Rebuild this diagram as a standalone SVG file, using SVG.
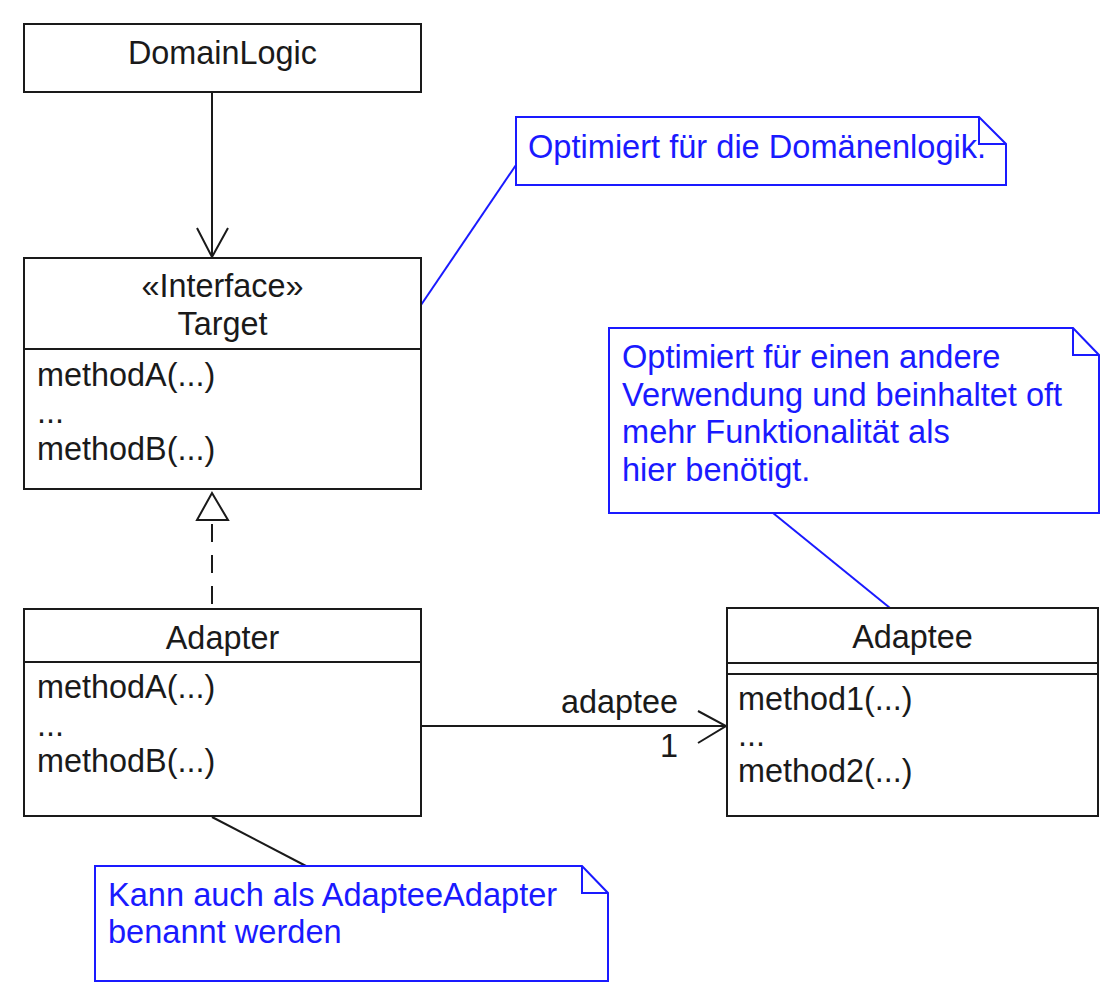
<svg xmlns="http://www.w3.org/2000/svg" width="1116" height="1004" viewBox="0 0 1116 1004">
<style>
.box{fill:#ffffff;stroke:#1a1a1a;stroke-width:2}
.div{stroke:#1a1a1a;stroke-width:2;fill:none}
.note{fill:#ffffff;stroke:#1a1aff;stroke-width:2;stroke-linejoin:miter}
.t{font-family:"Liberation Sans",Arial,sans-serif;font-size:32.4px;fill:#1a1a1a}
.c{text-anchor:middle}
.nt{font-family:"Liberation Sans",Arial,sans-serif;font-size:32.6px;fill:#1a1aff}
.ln{stroke:#1a1a1a;stroke-width:2;fill:none}
.bl{stroke:#1a1aff;stroke-width:2;fill:none}
</style>
<rect width="1116" height="1004" fill="#ffffff"/>
<g id="connectors">
  <line class="ln" x1="212" y1="92" x2="212" y2="257"/>
  <polyline class="ln" points="197,228 212,257 228,228"/>
  <line class="ln" x1="212" y1="520" x2="212" y2="608" stroke-dasharray="18,13" stroke-dashoffset="-4"/>
  <polygon points="212,493 197,520 228,520" fill="#ffffff" stroke="#1a1a1a" stroke-width="2"/>
  <line class="ln" x1="421" y1="726" x2="726" y2="726"/>
  <polyline class="ln" points="698,711 726,726 698,743"/>
  <text class="t" x="561" y="713">adaptee</text>
  <text class="t" x="678" y="757" text-anchor="end">1</text>
  <line class="bl" x1="516" y1="165" x2="421" y2="305"/>
  <line class="bl" x1="773" y1="513" x2="890" y2="608"/>
  <line class="ln" x1="212" y1="817" x2="306" y2="866"/>
</g>
<g id="DomainLogic">
  <rect class="box" x="24" y="24" width="397" height="68"/>
  <text class="t c" x="222.5" y="64">DomainLogic</text>
</g>
<g id="Target">
  <rect class="box" x="24" y="258" width="397" height="231"/>
  <line class="div" x1="24" y1="349" x2="421" y2="349"/>
  <text class="t c" x="222.5" y="297">«Interface»</text>
  <text class="t c" x="222.5" y="335">Target</text>
  <text class="t" x="37" y="386">methodA(...)</text>
  <text class="t" x="37" y="423">...</text>
  <text class="t" x="37" y="460">methodB(...)</text>
</g>
<g id="Adapter">
  <rect class="box" x="24" y="609" width="397" height="207"/>
  <line class="div" x1="24" y1="662" x2="421" y2="662"/>
  <text class="t c" x="222.5" y="649">Adapter</text>
  <text class="t" x="37" y="698">methodA(...)</text>
  <text class="t" x="37" y="736">...</text>
  <text class="t" x="37" y="772">methodB(...)</text>
</g>
<g id="Adaptee">
  <rect class="box" x="727" y="608" width="371" height="208"/>
  <line class="div" x1="727" y1="663" x2="1098" y2="663"/>
  <line class="div" x1="727" y1="674" x2="1098" y2="674"/>
  <text class="t c" x="912.5" y="648">Adaptee</text>
  <text class="t" x="738" y="710">method1(...)</text>
  <text class="t" x="738" y="746">...</text>
  <text class="t" x="738" y="782">method2(...)</text>
</g>
<g id="Note1">
  <path class="note" d="M516,117 H979 L1006,144 V185 H516 Z"/>
  <path class="bl" d="M979,117 V144 H1006"/>
  <text class="nt" x="528" y="158">Optimiert für die Domänenlogik.</text>
</g>
<g id="Note2">
  <path class="note" d="M609,328 H1073 L1099,355 V513 H609 Z"/>
  <path class="bl" d="M1073,328 V355 H1099"/>
  <text class="nt" x="622" y="368">Optimiert für einen andere</text>
  <text class="nt" x="622" y="406">Verwendung und beinhaltet oft</text>
  <text class="nt" x="622" y="443">mehr Funktionalität als</text>
  <text class="nt" x="622" y="481">hier benötigt.</text>
</g>
<g id="Note3">
  <path class="note" d="M95,866 H582 L608,893 V981 H95 Z"/>
  <path class="bl" d="M582,866 V893 H608"/>
  <text class="nt" x="108" y="906">Kann auch als AdapteeAdapter</text>
  <text class="nt" x="108" y="943">benannt werden</text>
</g>
</svg>
